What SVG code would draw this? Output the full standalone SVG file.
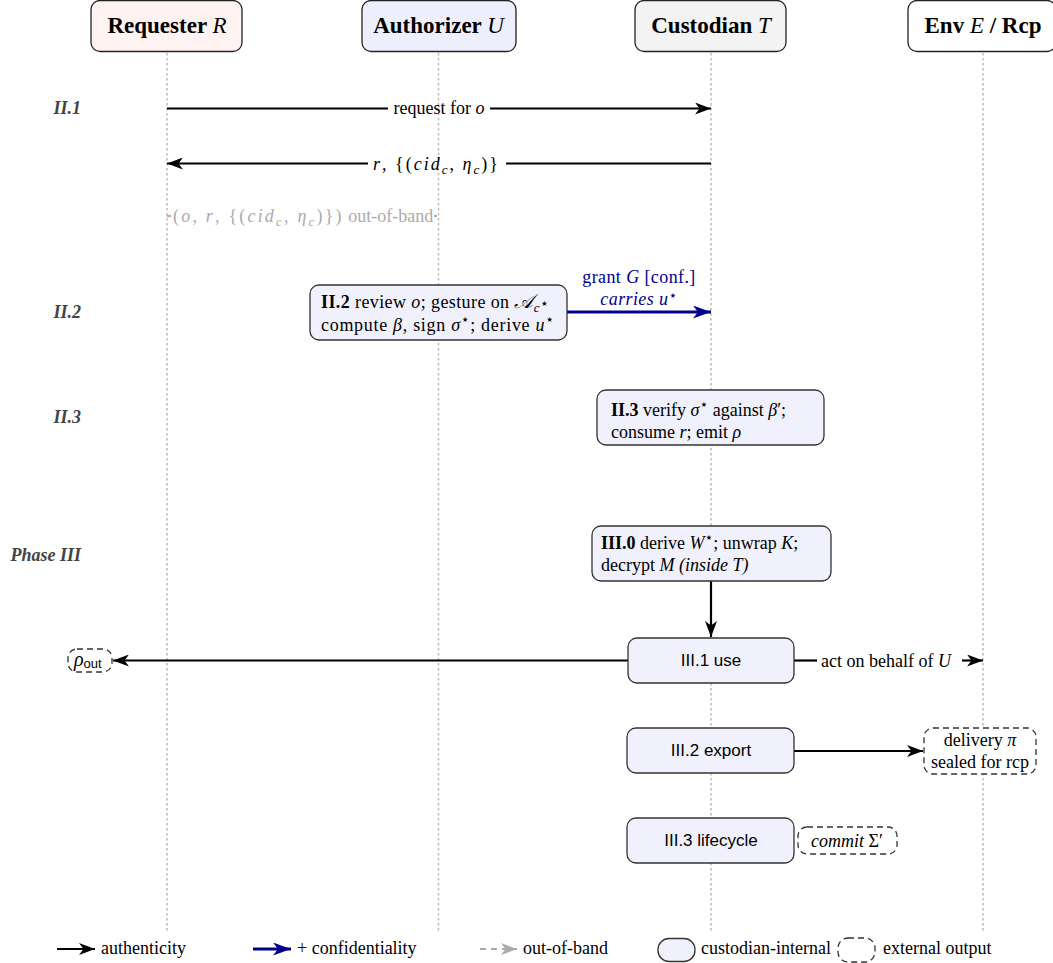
<svg xmlns="http://www.w3.org/2000/svg" width="1053" height="963" viewBox="0 0 1053 963">
<style>
text{font-family:"Liberation Serif","DejaVu Serif",serif;font-size:18px;fill:#000}
.m{font-style:italic}
.hd{font-size:23px;font-weight:bold;text-anchor:middle}
.hd .m{font-weight:normal}
.ph{font-weight:bold;font-style:italic;fill:#444;text-anchor:end}
.sans{font-family:"Liberation Sans",sans-serif;font-size:17px;text-anchor:middle}
.mid{text-anchor:middle}
.sub{font-size:13px}
.st{font-family:"DejaVu Sans",sans-serif;font-size:14px;font-style:normal}
.box{fill:#f1f1fd;stroke:#333;stroke-width:1.3}
.ext{fill:#fff;stroke:#333;stroke-width:1.3;stroke-dasharray:6 4}
.life{stroke:#bbb;stroke-width:1.5;stroke-dasharray:2.5 2.5}
.a{stroke:#000;stroke-width:2.2;fill:none}
.ab{stroke:#00008b;stroke-width:3;fill:none}
.ag{stroke:#aaa;stroke-width:2.2;fill:none;stroke-dasharray:6 5}
.blue{fill:#00008b}
.gray{fill:#aaa}
</style>
<defs>
<marker id="ah" markerUnits="userSpaceOnUse" markerWidth="16" markerHeight="12" refX="16" refY="6" orient="auto" viewBox="0 0 16 12">
<path d="M0,0 L16,6 L0,12 L4.5,6 z" fill="#000"/>
</marker>
<marker id="ahb" markerUnits="userSpaceOnUse" markerWidth="18" markerHeight="13" refX="18" refY="6.5" orient="auto" viewBox="0 0 18 13">
<path d="M0,0 L18,6.5 L0,13 L5,6.5 z" fill="#00008b"/>
</marker>
<marker id="ahg" markerUnits="userSpaceOnUse" markerWidth="16" markerHeight="12" refX="16" refY="6" orient="auto" viewBox="0 0 16 12">
<path d="M0,0 L16,6 L0,12 L4.5,6 z" fill="#aaa"/>
</marker>
</defs>
<rect width="1053" height="963" fill="#fff"/>

<g id="lifelines">
<line class="life" x1="167" y1="53" x2="167" y2="931"/>
<line class="life" x1="438.5" y1="53" x2="438.5" y2="931"/>
<line class="life" x1="711" y1="53" x2="711" y2="931"/>
<line class="life" x1="983" y1="53" x2="983" y2="931"/>
</g>

<g id="hdr-R"><rect x="91" y="0.5" width="151" height="51" rx="9" fill="#fff3f1" stroke="#222" stroke-width="1.3"/><text class="hd" x="167" y="33">Requester <tspan class="m">R</tspan></text></g>
<g id="hdr-U"><rect x="362" y="0.5" width="154" height="51" rx="9" fill="#eeeffc" stroke="#222" stroke-width="1.3"/><text class="hd" x="438.5" y="33">Authorizer <tspan class="m">U</tspan></text></g>
<g id="hdr-T"><rect x="635" y="0.5" width="151" height="51" rx="9" fill="#f3f3f3" stroke="#222" stroke-width="1.3"/><text class="hd" x="711" y="33">Custodian <tspan class="m">T</tspan></text></g>
<g id="hdr-E"><rect x="908" y="0.5" width="148" height="51" rx="9" fill="#fff" stroke="#222" stroke-width="1.3"/><text class="hd" x="983" y="33">Env <tspan class="m">E</tspan> / Rcp</text></g>

<g id="phases">
<text class="ph" x="81" y="114">II.1</text>
<text class="ph" x="81" y="318">II.2</text>
<text class="ph" x="81" y="423">II.3</text>
<text class="ph" x="81" y="561">Phase III</text>
</g>

<g id="connectors">
<line class="a" x1="167" y1="108.5" x2="388" y2="108.5"/>
<line class="a" x1="490" y1="108.5" x2="711" y2="108.5" marker-end="url(#ah)"/>
<line class="a" x1="711" y1="163.5" x2="506" y2="163.5"/>
<line class="a" x1="368" y1="163.5" x2="167" y2="163.5" marker-end="url(#ah)"/>
<line class="ag" x1="167" y1="216" x2="438" y2="216"/>
<line class="ab" x1="567" y1="312" x2="711" y2="312" marker-end="url(#ahb)"/>
<line class="a" x1="711" y1="581" x2="711" y2="637" marker-end="url(#ah)"/>
<line class="a" x1="628" y1="660.5" x2="113" y2="660.5" marker-end="url(#ah)"/>
<line class="a" x1="794" y1="660.5" x2="817" y2="660.5"/>
<line class="a" x1="962" y1="660.5" x2="983" y2="660.5" marker-end="url(#ah)"/>
<line class="a" x1="794" y1="751" x2="923" y2="751" marker-end="url(#ah)"/>
</g>

<g id="lbl-request"><text class="mid" x="439" y="114">request for <tspan class="m">o</tspan></text></g>
<g id="lbl-reply"><text x="373" y="170" letter-spacing="2"><tspan class="m">r</tspan>,  {(<tspan class="m">cid</tspan><tspan class="sub m" dy="4">c</tspan><tspan dy="-4">, </tspan><tspan class="m">η</tspan><tspan class="sub m" dy="4">c</tspan><tspan dy="-4">)}</tspan></text></g>
<g id="lbl-oob"><rect x="171" y="204" width="263" height="24" fill="#fff"/><text class="gray" x="173" y="222"><tspan letter-spacing="2.2">(<tspan class="m">o</tspan>, <tspan class="m">r</tspan>, {(<tspan class="m">cid</tspan><tspan class="sub m" dy="4">c</tspan><tspan dy="-4">, </tspan><tspan class="m">η</tspan><tspan class="sub m" dy="4">c</tspan><tspan dy="-4">)})</tspan></tspan> out-of-band</text></g>

<g id="II2"><rect class="box" x="310" y="285" width="257" height="55" rx="9"/>
<text x="321" y="308" letter-spacing="0.4"><tspan font-weight="bold">II.2</tspan> review <tspan class="m">o</tspan>; gesture on <tspan class="m" font-size="20">𝒜</tspan><tspan class="sub m" dy="4">c</tspan><tspan class="st" font-size="11" dy="-4">⋆</tspan></text>
<text x="321" y="331" letter-spacing="0.7">compute <tspan class="m">β</tspan>, sign <tspan class="m">σ</tspan><tspan class="st" dy="-7">⋆</tspan><tspan dy="7">; derive </tspan><tspan class="m">u</tspan><tspan class="st" dy="-7">⋆</tspan></text></g>

<g id="lbl-grant"><text class="mid blue" x="639" y="283" font-size="16.5" letter-spacing="0.4">grant <tspan class="m">G</tspan> [conf.]</text><text class="mid blue m" x="639" y="305" font-size="16.5" letter-spacing="0.4">carries u<tspan class="st" font-size="11" dy="-5">⋆</tspan></text></g>

<g id="II3"><rect class="box" x="597" y="390" width="227" height="55" rx="9"/>
<text x="611" y="416"><tspan font-weight="bold">II.3</tspan> verify <tspan class="m">σ</tspan><tspan class="st" dy="-7">⋆</tspan><tspan dy="7"> against </tspan><tspan class="m">β</tspan>′;</text>
<text x="611" y="438">consume <tspan class="m">r</tspan>; emit <tspan class="m">ρ</tspan></text></g>

<g id="III0"><rect class="box" x="592" y="526" width="239" height="55" rx="9"/>
<text x="601" y="549"><tspan font-weight="bold">III.0</tspan> derive <tspan class="m">W</tspan><tspan class="st" dy="-7">⋆</tspan><tspan dy="7">; unwrap </tspan><tspan class="m">K</tspan>;</text>
<text x="601" y="571">decrypt <tspan class="m">M</tspan> <tspan class="m">(inside </tspan><tspan class="m">T</tspan><tspan class="m">)</tspan></text></g>

<g id="III1"><rect class="box" x="628" y="638" width="166" height="45" rx="9"/><text class="sans" x="711" y="666">III.1 use</text></g>
<g id="rho-out"><rect class="ext" x="68" y="649" width="44" height="23" rx="9"/><text x="74" y="666"><tspan class="m" font-size="20">ρ</tspan><tspan font-family="Liberation Sans,sans-serif" font-size="13" dy="2">out</tspan></text></g>
<g id="lbl-act"><text x="821" y="667">act on behalf of <tspan class="m">U</tspan></text></g>

<g id="III2"><rect class="box" x="627" y="728" width="167" height="45" rx="9"/><text class="sans" x="711" y="756">III.2 export</text></g>
<g id="delivery"><rect class="ext" x="924" y="728" width="112" height="46" rx="9"/><text class="mid" x="980" y="746">delivery <tspan class="m">π</tspan></text><text class="mid" x="980" y="768">sealed for rcp</text></g>

<g id="III3"><rect class="box" x="627" y="818" width="167" height="45" rx="9"/><text class="sans" x="711" y="846">III.3 lifecycle</text></g>
<g id="commit"><rect class="ext" x="798" y="827" width="99" height="27" rx="9"/><text class="mid" x="847" y="847"><tspan class="m">commit</tspan> Σ′</text></g>

<g id="legend">
<line class="a" x1="57" y1="949" x2="95" y2="949" marker-end="url(#ah)"/>
<text x="101" y="954">authenticity</text>
<line class="ab" x1="253" y1="949" x2="291" y2="949" marker-end="url(#ahb)"/>
<text x="297" y="954">+ confidentiality</text>
<line class="ag" x1="480" y1="949" x2="517" y2="949" marker-end="url(#ahg)"/>
<text x="523" y="954">out-of-band</text>
<rect class="box" x="658" y="938.5" width="37" height="23" rx="11"/>
<text x="701" y="954">custodian-internal</text>
<rect class="ext" x="838" y="938" width="37" height="24" rx="10"/>
<text x="883" y="954">external output</text>
</g>
</svg>
